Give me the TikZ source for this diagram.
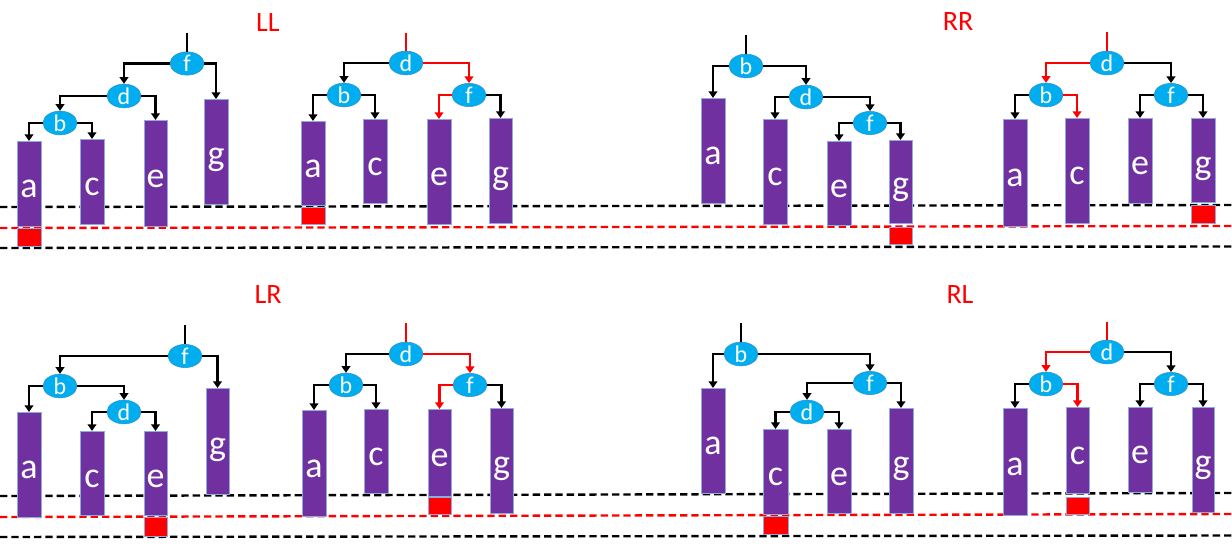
\documentclass[tikz,border=0pt]{standalone}
\usepackage{fontspec}
\setmainfont{Carlito}
\usetikzlibrary{arrows.meta,shapes.geometric}
\definecolor{barpurple}{HTML}{7030A0}
\definecolor{barline}{HTML}{8FAADC}
\definecolor{elblue}{HTML}{00AEEF}
\definecolor{elline}{HTML}{2E8FD0}
\definecolor{myred}{HTML}{FF0000}
\tikzset{
  bar/.style={draw=barline, fill=barpurple, line width=0.6pt, inner sep=0pt,
    text=white, font=\fontsize{27}{27}\selectfont, text height=21pt, text depth=0pt},
  redbox/.style={draw=barline, fill=myred, line width=0.6pt, inner sep=0pt},
  el/.style={ellipse, draw=elline, fill=elblue, line width=0.4pt, inner sep=0pt,
    minimum width=25.5pt, minimum height=16.5pt, text=white,
    font=\fontsize{18}{18}\selectfont},
  conn/.style={line width=1.8pt, draw=black, -{Triangle[length=5pt,width=6.5pt]}},
  rconn/.style={conn, draw=myred, -{Triangle[length=5pt,width=6.5pt,fill=myred]}},
  stem/.style={line width=1.8pt, draw=black},
  rstem/.style={line width=1.8pt, draw=myred},
  lab/.style={text=myred, font=\fontsize{21}{21}\selectfont},
  bdash/.style={line width=1.8pt, draw=black, dash pattern=on 5.5pt off 3pt},
  rdash/.style={line width=1.8pt, draw=myred, dash pattern=on 5.5pt off 3pt}
}
% \tbar{name}{x1}{y1}{x2}{y2}{text}  (pixel coordinates)
\newcommand\tbar[6]{\node[bar, minimum width={(#4-#2)*0.75pt}, minimum height={(#5-#3)*0.75pt}, anchor=north] (#1) at ({(#2+#4)/2},#3) {#6};}
\newcommand\tred[5]{\node[redbox, minimum width={(#4-#2)*0.75pt}, minimum height={(#5-#3)*0.75pt}, anchor=north] (#1) at ({(#2+#4)/2},#3) {};}
\begin{document}
\begin{tikzpicture}[x=0.75pt,y=-0.75pt]
\useasboundingbox (0,0) rectangle (1232,548);
% dashed reference lines
\coordinate (t1l) at (0,207);   \coordinate (t1r) at (1232,205);
\coordinate (t2l) at (0,228);   \coordinate (t2r) at (1232,226);
\coordinate (t3l) at (0,248);   \coordinate (t3r) at (1232,246.5);
\coordinate (b1l) at (0,496);   \coordinate (b1r) at (1232,493);
\coordinate (b2l) at (0,517);   \coordinate (b2r) at (1232,514);
\coordinate (b3l) at (0,537);   \coordinate (b3r) at (1232,535.5);
\draw[bdash] (t1l) -- (t1r);
\draw[rdash] (t2l) -- (t2r);
\draw[bdash] (t3l) -- (t3r);
\draw[bdash] (b1l) -- (b1r);
\draw[rdash] (b2l) -- (b2r);
\draw[bdash] (b3l) -- (b3r);
% labels
\node[lab] (LL) at (268,23) {LL};
\node[lab] (RR) at (958,22) {RR};
\node[lab] (LR) at (268,295) {LR};
\node[lab] (RL) at (960,295) {RL};

% ===== Panel 1: LL before =====
\tbar{a1}{17}{141}{41}{226}{a}
\tbar{c1}{80}{139}{104}{224}{c}
\tbar{e1}{144}{120}{167}{226}{e}
\tbar{g1}{204}{99}{228}{204}{g}
\tred{ra1}{17}{228}{41}{246}
\node[el] (f1) at (187,63.5) {f};
\node[el] (d1) at (124,96) {d};
\node[el] (b1) at (60,123) {b};
\coordinate (s1) at (187,33);
\draw[stem] (s1) -- (f1.north);
\draw[conn] (f1.west) -| (d1.north);
\draw[conn] (f1.east) -| (g1.north);
\draw[conn] (d1.west) -| (b1.north);
\draw[conn] (d1.east) -| (e1.north);
\draw[conn] (b1.west) -| (a1.north);
\draw[conn] (b1.east) -| (c1.north);

% ===== Panel 2: LL after =====
\tbar{a2}{301}{121}{325}{205}{a}
\tbar{c2}{363}{119}{387}{203}{c}
\tbar{e2}{427}{119}{451}{224}{e}
\tbar{g2}{489}{118}{512}{223}{g}
\tred{ra2}{301}{207}{325}{224}
\node[el] (d2) at (406,63) {d};
\node[el] (b2) at (344,95) {b};
\node[el] (f2) at (469,95) {f};
\coordinate (s2) at (406,33);
\draw[rstem] (s2) -- (d2.north);
\draw[conn] (d2.west) -| (b2.north);
\draw[rconn] (d2.east) -| (f2.north);
\draw[conn] (b2.west) -| (a2.north);
\draw[conn] (b2.east) -| (c2.north);
\draw[rconn] (f2.west) -| (e2.north);
\draw[conn] (f2.east) -| (g2.north);

% ===== Panel 3: RR before =====
\tbar{a3}{701}{98}{725}{203}{a}
\tbar{c3}{763}{119}{787}{224}{c}
\tbar{e3}{827}{141}{851}{225}{e}
\tbar{g3}{889}{140}{912}{223}{g}
\tred{rg3}{889}{227}{912}{244}
\node[el] (b3) at (746,66) {b};
\node[el] (d3) at (806,97) {d};
\node[el] (f3) at (870,123) {f};
\coordinate (s3) at (746,35);
\draw[stem] (s3) -- (b3.north);
\draw[conn] (b3.west) -| (a3.north);
\draw[conn] (b3.east) -| (d3.north);
\draw[conn] (d3.west) -| (c3.north);
\draw[conn] (d3.east) -| (f3.north);
\draw[conn] (f3.west) -| (e3.north);
\draw[conn] (f3.east) -| (g3.north);

% ===== Panel 4: RR after =====
\tbar{a4}{1003}{119}{1027}{226}{a}
\tbar{c4}{1065}{118}{1089}{223}{c}
\tbar{e4}{1128}{118}{1152}{203}{e}
\tbar{g4}{1191}{118}{1215}{202}{g}
\tred{rg4}{1191}{205}{1215}{223}
\node[el] (d4) at (1107,63) {d};
\node[el] (b4) at (1046,95) {b};
\node[el] (f4) at (1171,95) {f};
\coordinate (s4) at (1107,32);
\draw[rstem] (s4) -- (d4.north);
\draw[rconn] (d4.west) -| (b4.north);
\draw[conn] (d4.east) -| (f4.north);
\draw[conn] (b4.west) -| (a4.north);
\draw[rconn] (b4.east) -| (c4.north);
\draw[conn] (f4.west) -| (e4.north);
\draw[conn] (f4.east) -| (g4.north);

% ===== Panel 5: LR before =====
\tbar{a5}{17}{412}{41}{517}{a}
\tbar{c5}{80}{431}{104}{515}{c}
\tbar{e5}{144}{431}{167}{515}{e}
\tbar{g5}{206}{388}{229}{494}{g}
\tred{re5}{144}{517}{167}{536}
\node[el] (f5) at (185,356) {f};
\node[el] (b5) at (60,386) {b};
\node[el] (d5) at (124,412) {d};
\coordinate (s5) at (185,325);
\draw[stem] (s5) -- (f5.north);
\draw[conn] (f5.west) -| (b5.north);
\draw[conn] (f5.east) -| (g5.north);
\draw[conn] (b5.west) -| (a5.north);
\draw[conn] (b5.east) -| (d5.north);
\draw[conn] (d5.west) -| (c5.north);
\draw[conn] (d5.east) -| (e5.north);

% ===== Panel 6: LR after =====
\tbar{a6}{302}{410}{326}{516}{a}
\tbar{c6}{364}{409}{388}{493}{c}
\tbar{e6}{428}{409}{451}{496}{e}
\tbar{g6}{490}{408}{513}{513}{g}
\tred{re6}{428}{497}{451}{514}
\node[el] (d6) at (406,354) {d};
\node[el] (b6) at (346,385) {b};
\node[el] (f6) at (470,385) {f};
\coordinate (s6) at (406,323);
\draw[rstem] (s6) -- (d6.north);
\draw[conn] (d6.west) -| (b6.north);
\draw[rconn] (d6.east) -| (f6.north);
\draw[conn] (b6.west) -| (a6.north);
\draw[conn] (b6.east) -| (c6.north);
\draw[rconn] (f6.west) -| (e6.north);
\draw[conn] (f6.east) -| (g6.north);

% ===== Panel 7: RL before =====
\tbar{a7}{701}{388}{725}{493}{a}
\tbar{c7}{763}{429}{788}{514}{c}
\tbar{e7}{827}{429}{851}{513}{e}
\tbar{g7}{889}{408}{913}{513}{g}
\tred{rc7}{763}{516}{788}{534}
\node[el] (b7) at (741,354) {b};
\node[el] (f7) at (870,383) {f};
\node[el] (d7) at (807,412) {d};
\coordinate (s7) at (741,323);
\draw[stem] (s7) -- (b7.north);
\draw[conn] (b7.west) -| (a7.north);
\draw[conn] (b7.east) -| (f7.north);
\draw[conn] (f7.west) -| (d7.north);
\draw[conn] (f7.east) -| (g7.north);
\draw[conn] (d7.west) -| (c7.north);
\draw[conn] (d7.east) -| (e7.north);

% ===== Panel 8: RL after =====
\tbar{a8}{1003}{408}{1027}{515}{a}
\tbar{c8}{1066}{407}{1089}{493}{c}
\tbar{e8}{1128}{407}{1152}{492}{e}
\tbar{g8}{1192}{407}{1214}{512}{g}
\tred{rc8}{1066}{497}{1089}{514}
\node[el] (d8) at (1107,352) {d};
\node[el] (b8) at (1046,384) {b};
\node[el] (f8) at (1171,384) {f};
\coordinate (s8) at (1107,322);
\draw[rstem] (s8) -- (d8.north);
\draw[rconn] (d8.west) -| (b8.north);
\draw[conn] (d8.east) -| (f8.north);
\draw[conn] (b8.west) -| (a8.north);
\draw[rconn] (b8.east) -| (c8.north);
\draw[conn] (f8.west) -| (e8.north);
\draw[conn] (f8.east) -| (g8.north);
\end{tikzpicture}
\end{document}
